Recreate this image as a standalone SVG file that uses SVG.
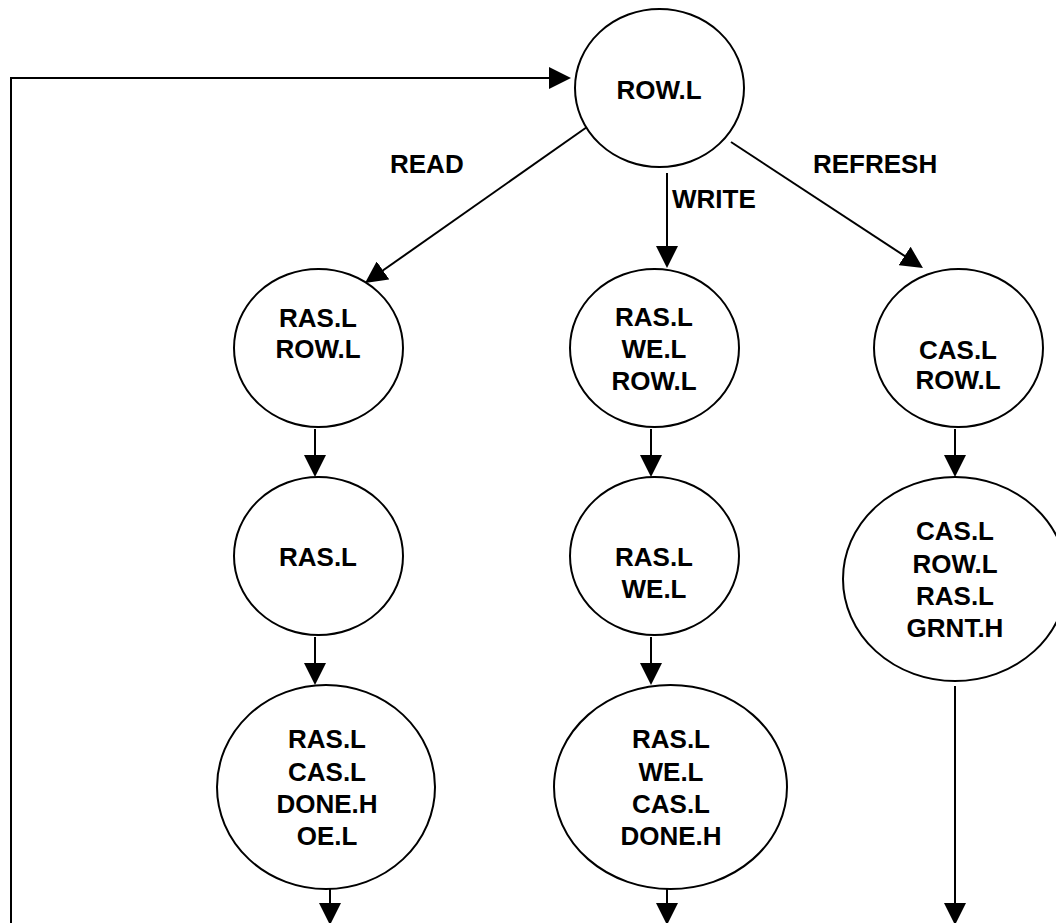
<svg xmlns="http://www.w3.org/2000/svg" width="1056" height="923" viewBox="0 0 1056 923">
<defs>
<marker id="arr" markerUnits="userSpaceOnUse" markerWidth="22" markerHeight="22" refX="12" refY="11" orient="auto" viewBox="0 0 22 22">
<path d="M0,0 L22,11 L0,22 z" fill="#000"/>
</marker>
<style>
.n{fill:#fff;stroke:#000;stroke-width:2}
.t{font-family:"Liberation Sans",Arial,sans-serif;font-weight:bold;font-size:26px;fill:#000;text-anchor:middle}
.l{font-family:"Liberation Sans",Arial,sans-serif;font-weight:bold;font-size:26px;fill:#000}
.c{fill:none;stroke:#000;stroke-width:2;marker-end:url(#arr)}
</style>
</defs>
<rect width="1056" height="923" fill="#fff"/>
<g id="connectors">
<path class="c" d="M11,930 V78 H561"/>
<path class="c" d="M587,127 L373.2,277.3"/>
<path class="c" d="M667,173 V258"/>
<path class="c" d="M731,142 L914.6,262.5"/>
<path class="c" d="M315,429 V467"/>
<path class="c" d="M315,637 V675"/>
<path class="c" d="M330,877 V915"/>
<path class="c" d="M651,429 V467"/>
<path class="c" d="M651,637 V675"/>
<path class="c" d="M667,877 V915"/>
<path class="c" d="M955,429 V467"/>
<path class="c" d="M955,686 V915"/>
<text class="l" x="390" y="173">READ</text>
<text class="l" x="672" y="208">WRITE</text>
<text class="l" x="813" y="173">REFRESH</text>
</g>
<g id="row">
<ellipse class="n" cx="659.5" cy="88" rx="84.5" ry="79"/>
<text class="t" x="659" y="99">ROW.L</text>
</g>
<g id="read1">
<ellipse class="n" cx="318.5" cy="348" rx="84.5" ry="79"/>
<text class="t" x="318" y="327">RAS.L</text>
<text class="t" x="318" y="358">ROW.L</text>
</g>
<g id="read2">
<ellipse class="n" cx="318.5" cy="556" rx="84.5" ry="79"/>
<text class="t" x="318" y="566">RAS.L</text>
</g>
<g id="read3">
<ellipse class="n" cx="326" cy="787" rx="109" ry="102"/>
<text class="t" x="327" y="748">RAS.L</text>
<text class="t" x="327" y="781">CAS.L</text>
<text class="t" x="327" y="813">DONE.H</text>
<text class="t" x="327" y="845">OE.L</text>
</g>
<g id="write1">
<ellipse class="n" cx="654.5" cy="348" rx="84.5" ry="79"/>
<text class="t" x="654" y="326">RAS.L</text>
<text class="t" x="654" y="358">WE.L</text>
<text class="t" x="654" y="390">ROW.L</text>
</g>
<g id="write2">
<ellipse class="n" cx="654.5" cy="556" rx="84.5" ry="79"/>
<text class="t" x="654" y="566">RAS.L</text>
<text class="t" x="654" y="598">WE.L</text>
</g>
<g id="write3">
<ellipse class="n" cx="670.5" cy="787" rx="116.5" ry="102"/>
<text class="t" x="671" y="748">RAS.L</text>
<text class="t" x="671" y="781">WE.L</text>
<text class="t" x="671" y="813">CAS.L</text>
<text class="t" x="671" y="845">DONE.H</text>
</g>
<g id="refresh1">
<ellipse class="n" cx="958.5" cy="348" rx="84.5" ry="79"/>
<text class="t" x="958" y="359">CAS.L</text>
<text class="t" x="958" y="389">ROW.L</text>
</g>
<g id="refresh2">
<ellipse class="n" cx="955" cy="579" rx="112" ry="102"/>
<text class="t" x="955" y="540">CAS.L</text>
<text class="t" x="955" y="573">ROW.L</text>
<text class="t" x="955" y="605">RAS.L</text>
<text class="t" x="955" y="637">GRNT.H</text>
</g>
</svg>
